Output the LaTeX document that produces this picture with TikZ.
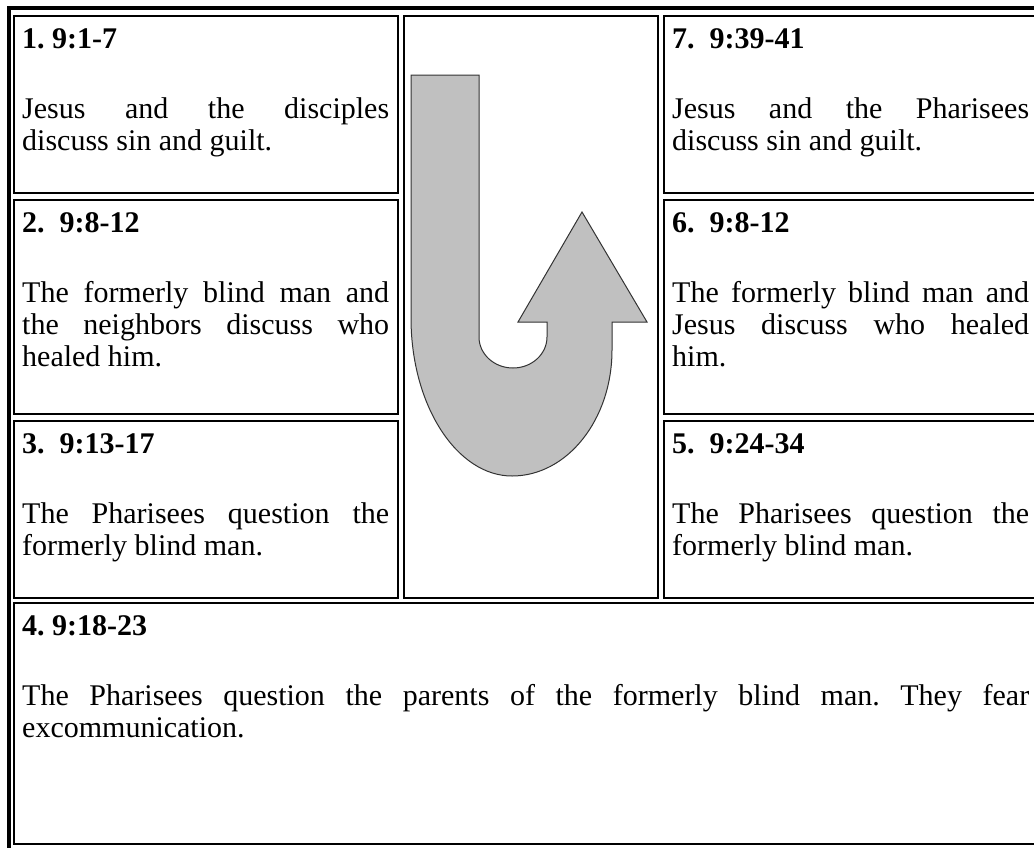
\documentclass[tikz,border=0pt]{standalone}
\usepackage{fontspec}
\setmainfont{Liberation Serif}
\usepackage{tikz}
\usetikzlibrary{positioning}
\definecolor{arrowgray}{HTML}{C0C0C0}
\frenchspacing

\begin{document}
\begin{tikzpicture}[x=1pt,y=-1pt,node distance=7pt,
    cellframe/.style={draw,line width=1.6pt,outer sep=0pt,inner sep=0pt,
      anchor=north west,minimum width=384pt},
    celltext/.style={anchor=base west,inner sep=0pt,align=justify,
      font=\fontsize{30}{32}\selectfont,xshift=8pt,yshift=-32pt}]
  \useasboundingbox (0,0) rectangle (1034,847);
  \clip (0,0) rectangle (1034,847);
  % outer border of the table
  \draw[line width=4pt] (9,870) -- (9,8) -- (1060,8);

  % left column
  \node[cellframe,minimum height=177pt] (c1) at (14,16) {};
  \node[cellframe,minimum height=214pt,below=of c1] (c2) {};
  \node[cellframe,minimum height=177pt,below=of c2] (c3) {};
  % middle cell
  \node[cellframe,minimum width=254pt,minimum height=582pt,
        right=6pt of c1.north east,anchor=north west] (cm) {};
  % right column
  \node[cellframe,minimum height=177pt,right=6pt of cm.north east,anchor=north west] (c7) {};
  \node[cellframe,minimum height=214pt,below=of c7] (c6) {};
  \node[cellframe,minimum height=177pt,below=of c6] (c5) {};
  % bottom row
  \node[cellframe,minimum width=1034pt,minimum height=241pt,
        below=5pt of c3.south west,anchor=north west] (c4) {};

  \node[celltext,text width=367pt] (t1) at (c1.north west)
    {\textbf{1. 9:1-7}\par\vspace{38pt}
     Jesus and the disciples\linebreak discuss sin and guilt.};
  \node[celltext,text width=367pt] (t2) at (c2.north west)
    {\textbf{2.\ \ 9:8-12}\par\vspace{38pt}
     The formerly blind man and\linebreak the neighbors discuss who\linebreak healed him.};
  \node[celltext,text width=367pt] (t3) at (c3.north west)
    {\textbf{3.\ \ 9:13-17}\par\vspace{38pt}
     The Pharisees question the\linebreak formerly blind man.};
  \node[celltext,text width=1007pt] (t4) at (c4.north west)
    {\textbf{4. 9:18-23}\par\vspace{38pt}
     The Pharisees question the parents of the formerly blind man. They fear\linebreak excommunication.};
  \node[celltext,text width=357pt] (t5) at (c5.north west)
    {\textbf{5.\ \ 9:24-34}\par\vspace{38pt}
     The Pharisees question the\linebreak formerly blind man.};
  \node[celltext,text width=357pt] (t6) at (c6.north west)
    {\textbf{6.\ \ 9:8-12}\par\vspace{38pt}
     The formerly blind man and\linebreak Jesus discuss who healed\linebreak him.};
  \node[celltext,text width=357pt] (t7) at (c7.north west)
    {\textbf{7.\ \ 9:39-41}\par\vspace{38pt}
     Jesus and the Pharisees\linebreak discuss sin and guilt.};

  % the turning arrow
  \filldraw[fill=arrowgray,draw=black!80,line width=1pt]
    (411,75) -- (479,75) -- (479,337)
    .. controls (479,354.1) and (494.2,368) .. (513,368)
    .. controls (531.8,368) and (547,354.1) .. (547,337)
    -- (547,322) -- (518,322) -- (582,212) -- (647,322) -- (612,322) -- (612,350)
    .. controls (612,419.6) and (567.2,476) .. (512,476)
    .. controls (456.8,476) and (411,405.3) .. (411,318) -- cycle;
\end{tikzpicture}
\end{document}
